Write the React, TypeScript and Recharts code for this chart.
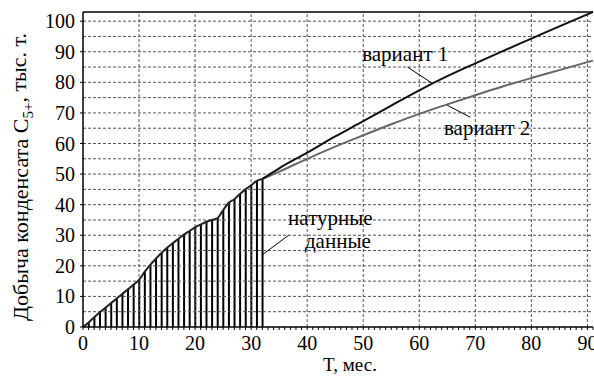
import {
  ComposedChart,
  Bar,
  Line,
  XAxis,
  YAxis,
  ReferenceLine,
  ReferenceDot,
} from "recharts";

// натурные данные, помесячно (месяцы 0..32)
const months = Array.from({ length: 92 }, (_, i) => i);
const natural = [
  0, 1.5, 3.2, 4.8, 6.3, 7.8, 9.3, 10.8, 12.3, 13.8, 15.4, 18.0, 20.3, 22.3, 24.2, 25.9, 27.4,
  28.8, 30.2, 31.4, 32.6, 33.5, 34.4, 35.0, 35.6, 38.2, 40.6, 41.8, 43.5, 45.0, 46.3, 47.8, 48.4,
];
// прогноз
const forecastT = [32, 35, 40, 45, 50, 55, 60, 65, 70, 75, 80, 85, 90, 91];
const variant1 = [48.4, 51.9, 57.0, 62.3, 67.3, 72.4, 77.4, 82.0, 86.2, 90.3, 94.3, 98.3, 102.2, 103.0];
const variant2 = [48.4, 50.8, 55.0, 59.0, 62.7, 66.3, 69.7, 72.8, 75.8, 78.7, 81.4, 84.0, 86.6, 87.1];

const yTicks = [0, 10, 20, 30, 40, 50, 60, 70, 80, 90, 100];
const hGrid = Array.from({ length: 20 }, (_, i) => (i + 1) * 5);
const vGrid = [10, 20, 30, 40, 50, 60, 70, 80, 90];

const FONT = "'Liberation Serif', 'Times New Roman', 'DejaVu Serif', serif";
const textStyle = { fontFamily: FONT };

const data = months.map((t) => {
  const k = forecastT.indexOf(t);
  return {
    t,
    natural: t < natural.length ? natural[t] : undefined,
    bar: t > 0 && t < natural.length ? natural[t] : undefined,
    v1: k >= 0 ? variant1[k] : undefined,
    v2: k >= 0 ? variant2[k] : undefined,
  };
});

function note(text: string, anchor: "start" | "middle" | "end") {
  return (props: any) => {
    const { x, y } = props.viewBox;
    return (
      <text x={x + 1} y={y + 1} textAnchor={anchor} dominantBaseline="central" style={textStyle} fontSize={21} fill="#000">
        {text}
      </text>
    );
  };
}

function XTick(props: any) {
  const { x, y, payload } = props;
  if (payload.value % 10 !== 0) return null;
  return (
    <text x={x} y={y} dy="0.71em" textAnchor="middle" style={textStyle} fontSize={20} fill="#000">
      {payload.value}
    </text>
  );
}

function YTick(props: any) {
  const { x, y, payload } = props;
  return (
    <text x={x} y={y} dy="0.35em" textAnchor="end" style={textStyle} fontSize={20} fill="#000">
      {payload.value}
    </text>
  );
}

function YTitle() {
  return (
    <text
      x={0}
      y={0}
      transform="translate(28,177) rotate(-90)"
      textAnchor="middle"
      style={textStyle}
      fontSize={22}
      fill="#000"
    >
      Добыча конденсата C
      <tspan fontSize={15} dy="0.35em">5+</tspan>
      <tspan dy="-0.35em">, тыс. т.</tspan>
    </text>
  );
}

function XTitle() {
  return (
    <text x={350} y={371} textAnchor="middle" style={textStyle} fontSize={19} fill="#000">
      T, мес.
    </text>
  );
}

export default function App() {
  return (
    <div style={{ position: "absolute", left: 0, top: 0, background: "#fff" }}>
      <ComposedChart
        width={594}
        height={376}
        data={data}
        margin={{ top: 12, right: 1, bottom: 0, left: 0 }}
      >
        {hGrid.map((v) => (
          <ReferenceLine key={`h${v}`} y={v} stroke="#555" strokeDasharray="3 2" strokeWidth={1} />
        ))}
        {vGrid.map((v) => (
          <ReferenceLine key={`v${v}`} x={v} stroke="#555" strokeDasharray="3 2" strokeWidth={1} />
        ))}
        <XAxis
          dataKey="t"
          type="number"
          domain={[0, 91]}
          ticks={months}
          interval={0}
          height={49}
          tickSize={3}
          tickMargin={6}
          tick={<XTick />}
          axisLine={{ stroke: "#000", strokeWidth: 1.5 }}
          tickLine={{ stroke: "#000" }}
          label={{ content: () => <XTitle /> }}
        />
        <YAxis
          type="number"
          domain={[0, 103]}
          ticks={yTicks}
          width={83}
          tickSize={3}
          tickMargin={5}
          tick={<YTick />}
          axisLine={{ stroke: "#000", strokeWidth: 1.5 }}
          tickLine={{ stroke: "#000" }}
          label={{ content: () => <YTitle /> }}
        />
        <ReferenceLine y={103} stroke="#000" strokeWidth={1.5} />
        <Bar dataKey="bar" fill="#000" barSize={2} isAnimationActive={false} />
        <Line
          dataKey="natural"
          type="monotone"
          stroke="#222"
          strokeWidth={2}
          dot={false}
          isAnimationActive={false}
        />
        <Line
          dataKey="v2"
          type="monotone"
          stroke="#666"
          strokeWidth={2}
          dot={false}
          connectNulls
          isAnimationActive={false}
        />
        <Line
          dataKey="v1"
          type="monotone"
          stroke="#111"
          strokeWidth={2}
          dot={false}
          connectNulls
          isAnimationActive={false}
        />
        <ReferenceLine segment={[{ x: 57.9, y: 85 }, { x: 62.3, y: 79.7 }]} stroke="#000" strokeWidth={1} />
        <ReferenceLine segment={[{ x: 65, y: 72.5 }, { x: 69.1, y: 68.6 }]} stroke="#000" strokeWidth={1} />
        <ReferenceLine segment={[{ x: 31.9, y: 23.5 }, { x: 36.7, y: 30 }]} stroke="#000" strokeWidth={1} />
        <ReferenceDot x={57.5} y={89.2} r={1} fill="none" stroke="none" label={{ content: note("вариант 1", "middle") }} />
        <ReferenceDot x={72.1} y={65} r={1} fill="none" stroke="none" label={{ content: note("вариант 2", "middle") }} />
        <ReferenceDot x={36.6} y={35.5} r={1} fill="none" stroke="none" label={{ content: note("натурные", "start") }} />
        <ReferenceDot x={39.6} y={28.0} r={1} fill="none" stroke="none" label={{ content: note("данные", "start") }} />
      </ComposedChart>
    </div>
  );
}
